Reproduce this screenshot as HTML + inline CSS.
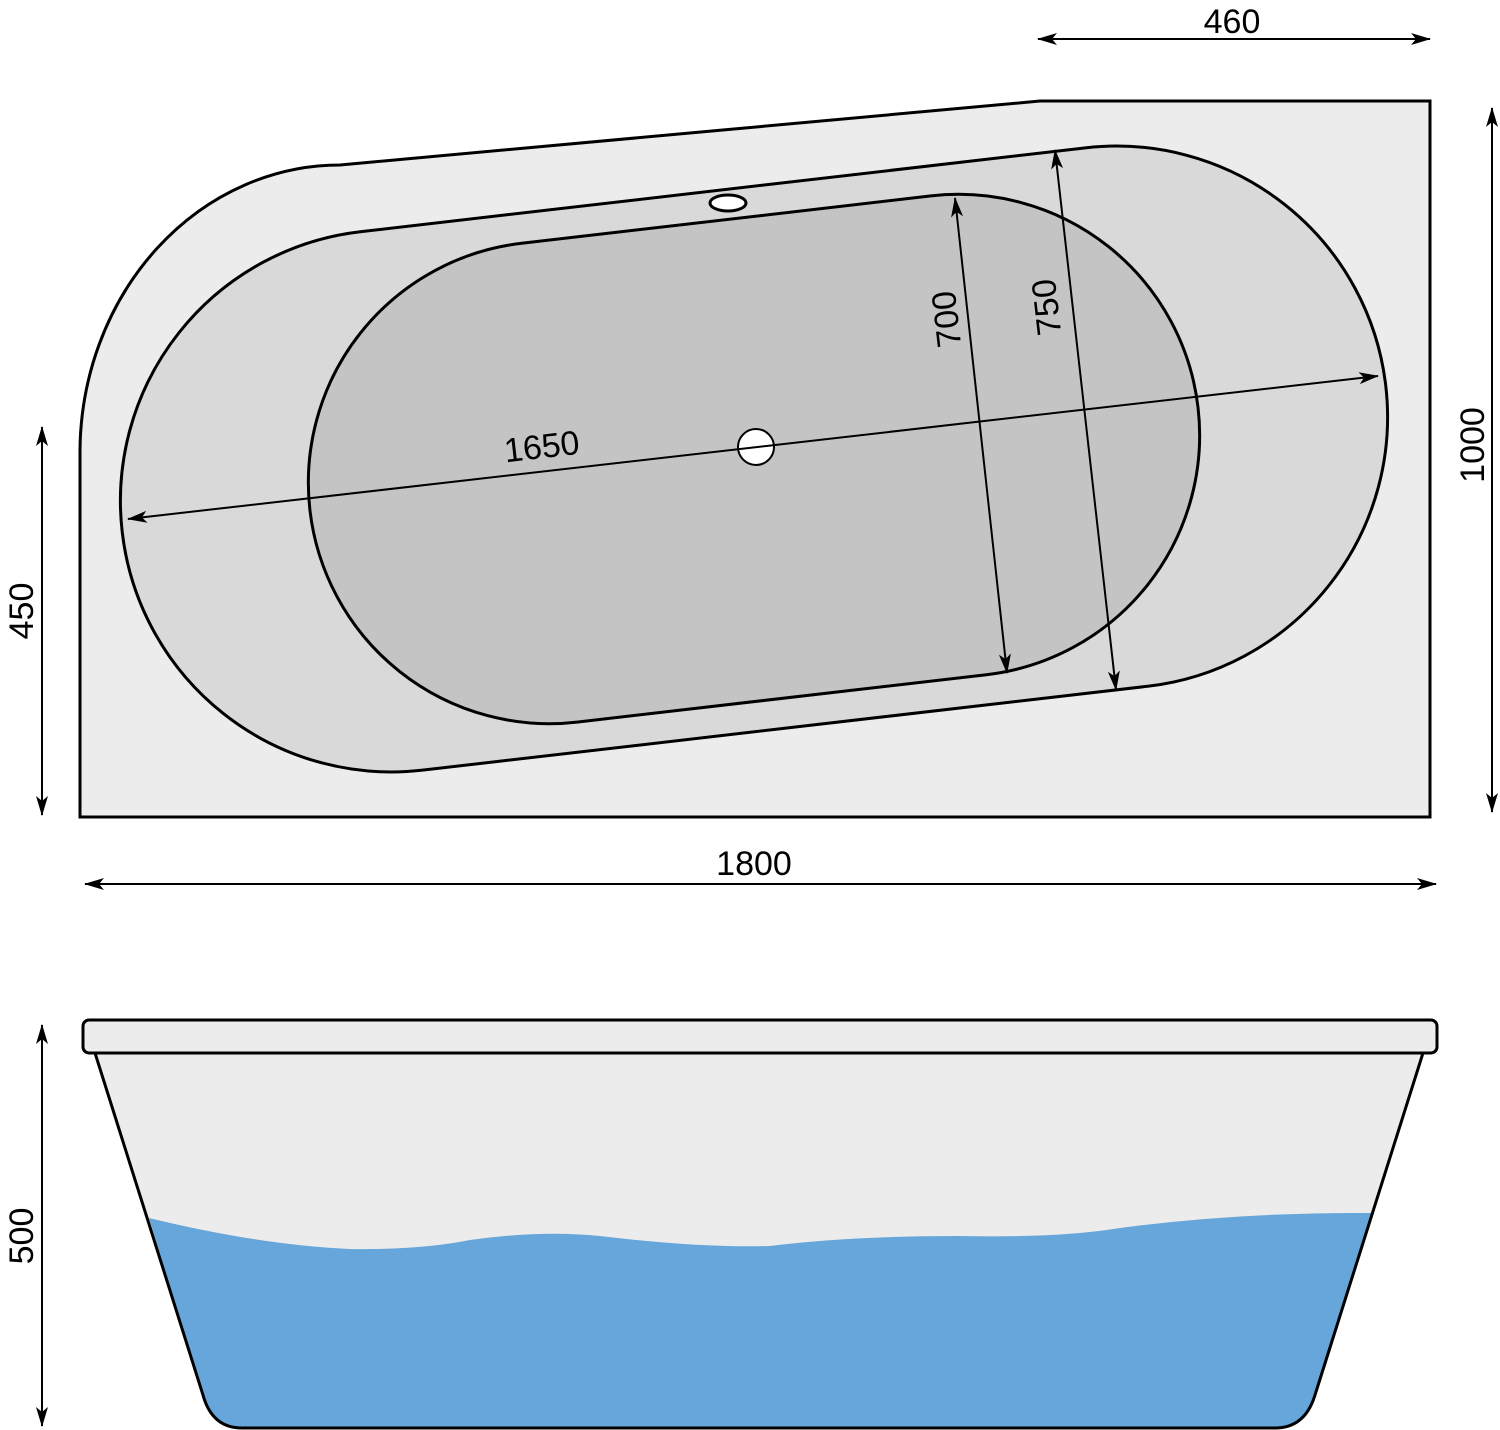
<!DOCTYPE html>
<html><head><meta charset="utf-8"><style>html,body{margin:0;padding:0;background:#fff}svg{display:block}</style></head><body>
<svg width="1500" height="1430" viewBox="0 0 1500 1430" xmlns="http://www.w3.org/2000/svg" font-family="Liberation Sans, sans-serif" font-size="34" fill="#000">
<defs>
<marker id="a" viewBox="0 0 20 12" refX="19" refY="6" markerWidth="20" markerHeight="12" markerUnits="userSpaceOnUse" orient="auto-start-reverse"><path d="M0,0 L20,6 L0,12 L5,6 Z" fill="#000"/></marker>
</defs>
<path d="M80,817 L1430,817 L1430,101 L1040,101 L340,165 A260,288 0 0 0 80,450 Z" fill="#ececec" stroke="#000" stroke-width="3"/>
<g transform="translate(754,459) rotate(-6.6)">
<rect x="-636" y="-271" width="1272" height="542" rx="271" ry="271" fill="#d9d9d9" stroke="#000" stroke-width="3"/>
<rect x="-447" y="-241" width="894" height="482" rx="241" ry="241" fill="#c4c4c4" stroke="#000" stroke-width="3"/>
</g>
<ellipse cx="728" cy="203" rx="18" ry="8" fill="#fff" stroke="#000" stroke-width="3"/>
<circle cx="756" cy="447" r="18" fill="#fff" stroke="#000" stroke-width="2"/>
<g stroke="#000" stroke-width="2" fill="none">
<line x1="128" y1="519" x2="1378" y2="376" marker-start="url(#a)" marker-end="url(#a)"/>
<line x1="955" y1="198" x2="1007" y2="673" marker-start="url(#a)" marker-end="url(#a)"/>
<line x1="1055" y1="150" x2="1116" y2="690" marker-start="url(#a)" marker-end="url(#a)"/>
<line x1="1038" y1="39" x2="1430" y2="39" marker-start="url(#a)" marker-end="url(#a)"/>
<line x1="1492" y1="108" x2="1492" y2="812" marker-start="url(#a)" marker-end="url(#a)"/>
<line x1="42" y1="427" x2="42" y2="815" marker-start="url(#a)" marker-end="url(#a)"/>
<line x1="85" y1="884" x2="1436" y2="884" marker-start="url(#a)" marker-end="url(#a)"/>
<line x1="42" y1="1025" x2="42" y2="1426" marker-start="url(#a)" marker-end="url(#a)"/>
</g>
<text x="1232" y="33" text-anchor="middle">460</text>
<text x="754" y="875" text-anchor="middle">1800</text>
<text transform="translate(543,458) rotate(-6.6)" text-anchor="middle">1650</text>
<text transform="translate(958,318) rotate(-96.6)" text-anchor="middle">700</text>
<text transform="translate(1058,306) rotate(-96.6)" text-anchor="middle">750</text>
<text transform="translate(1484,445) rotate(-90)" text-anchor="middle">1000</text>
<text transform="translate(33,611) rotate(-90)" text-anchor="middle">450</text>
<text transform="translate(33,1236) rotate(-90)" text-anchor="middle">500</text>
<path d="M95,1053 L1423,1053 L1315,1395 Q1305,1428 1275,1428 L242,1428 Q212,1428 203,1395 Z" fill="#ececec"/>
<path d="M149,1218 Q260,1245 350,1249 Q420,1250 470,1240 Q540,1230 600,1236 Q700,1248 770,1246 Q850,1236 960,1236 Q1060,1238 1120,1228 Q1240,1212 1373,1213 L1315,1395 Q1305,1428 1275,1428 L242,1428 Q212,1428 203,1395 Z" fill="#66a6da"/>
<path d="M95,1053 L1423,1053 L1315,1395 Q1305,1428 1275,1428 L242,1428 Q212,1428 203,1395 Z" fill="none" stroke="#000" stroke-width="3"/>
<rect x="83" y="1020" width="1354" height="33" rx="6" fill="#ececec" stroke="#000" stroke-width="3"/>
</svg>
</body></html>
